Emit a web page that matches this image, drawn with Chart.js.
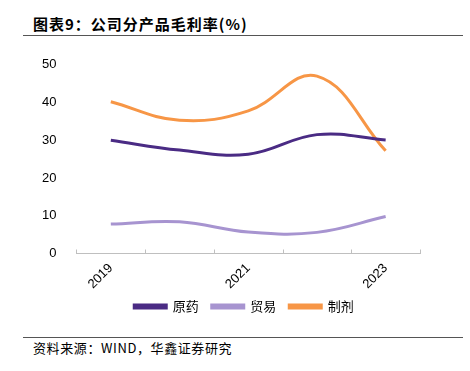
<!DOCTYPE html>
<html>
<head>
<meta charset="utf-8">
<script src="https://cdn.jsdelivr.net/npm/chart.js@4"></script>
<style>
  html, body { margin: 0; padding: 0; background: #fff; }
  body { width: 470px; height: 371px; position: relative; overflow: hidden; }
  .title {
    position: absolute; left: 33px; top: 13px;
    font: bold 15px "Noto Sans CJK SC", sans-serif; color: #000; letter-spacing: 1px;
  }
  .rule { position: absolute; left: 23px; width: 440px; height: 0; border-top: 1.5px solid #555; }
  .source {
    position: absolute; left: 33px; top: 338px;
    font: 13px "Noto Sans CJK SC", sans-serif; color: #000; letter-spacing: 0.6px;
  }
  #wrap { position: absolute; left: 0; top: 45px; width: 470px; height: 286px; }
</style>
</head>
<body>
<div class="title">图表9：公司分产品毛利率(%)</div>
<div class="rule" style="top:35px"></div>
<div id="wrap"><canvas id="c"></canvas></div>
<div class="rule" style="top:337px"></div>
<div class="source">资料来源：WIND，华鑫证券研究</div>
<script>
const years = ['2019', '2020', '2021', '2022', '2023'];
const yuanyao = [30.0, 27.4, 26.3, 31.5, 30.1];
const maoyi = [7.8, 8.4, 5.7, 5.6, 9.8];
const zhiji = [40.2, 35.3, 37.8, 47.0, 27.2];
const yTicks = [0, 10, 20, 30, 40, 50];

const font = { family: '"Liberation Sans", Arial, sans-serif', size: 13 };

// small tweaks: nudge the legend, draw the category tick marks pointing up
const tweaks = {
  id: 'tweaks',
  afterLayout(chart) {
    const lg = chart.legend;
    lg.left += 19; lg.right += 19;
    lg.top -= 8; lg.bottom -= 8;
  },
  afterDraw(chart) {
    const sx = chart.scales.x, ctx = chart.ctx;
    const y0 = chart.chartArea.bottom;
    ctx.save();
    ctx.strokeStyle = '#bfbfbf';
    ctx.lineWidth = 1;
    for (let i = 0; i <= years.length; i++) {
      const x = Math.round(sx.getPixelForValue(i - 0.5)) + 0.5;
      ctx.beginPath();
      ctx.moveTo(x, y0);
      ctx.lineTo(x, y0 - 4);
      ctx.stroke();
    }
    ctx.restore();
  }
};

new Chart(document.getElementById('c'), {
  type: 'line',
  data: {
    labels: years,
    datasets: [
      { label: '原药', data: yuanyao, borderColor: '#4a2b84', backgroundColor: '#4a2b84' },
      { label: '贸易', data: maoyi, borderColor: '#a794d0', backgroundColor: '#a794d0' },
      { label: '制剂', data: zhiji, borderColor: '#f79646', backgroundColor: '#f79646' }
    ]
  },
  options: {
    responsive: true,
    maintainAspectRatio: false,
    animation: false,
    elements: {
      line: { borderWidth: 3, tension: 0.4, fill: false },
      point: { radius: 0 }
    },
    layout: { padding: { left: 30, right: 50, top: 8, bottom: 0 } },
    plugins: {
      tooltip: { enabled: false },
      legend: {
        position: 'bottom',
        labels: {
          boxWidth: 32, boxHeight: 3, padding: 13,
          color: '#000',
          font: { family: '"Noto Sans CJK SC", sans-serif', size: 13 }
        }
      }
    },
    scales: {
      x: {
        offset: true,
        grid: { display: false, offset: true, tickLength: 4 },
        border: { color: '#bfbfbf', width: 1 },
        ticks: {
          color: '#000', font: font, maxRotation: 45, minRotation: 45, autoSkip: false,
          callback: function (v, i) { return i % 2 === 0 ? years[i] : ''; }
        }
      },
      y: {
        min: 0, max: 50,
        afterBuildTicks: function (s) { s.ticks = yTicks.map(v => ({ value: v })); },
        grid: { display: false },
        border: { display: false },
        ticks: { color: '#000', font: font, padding: 12 }
      }
    }
  },
  plugins: [tweaks]
});
</script>
</body>
</html>
